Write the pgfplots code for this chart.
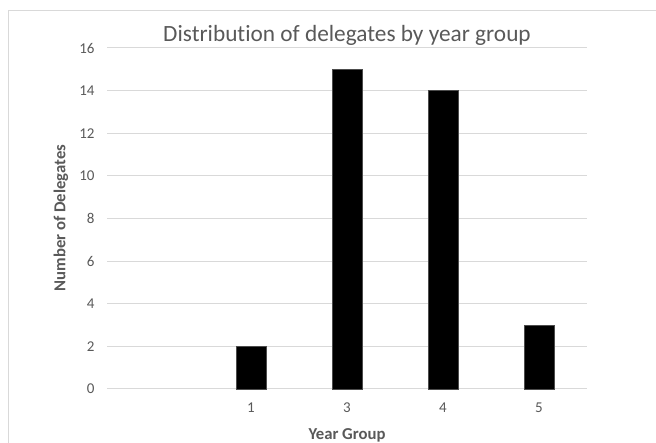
\documentclass[border=0pt]{standalone}
\usepackage{pgfplots}
\pgfplotsset{compat=1.18}
\usepackage{fontspec}
\setmainfont{Carlito}[Ligatures=NoCommon]
\definecolor{txt}{HTML}{595959}
\definecolor{gridc}{HTML}{D9D9D9}
\begin{document}
\begin{tikzpicture}[x=1pt,y=1pt]
\path[use as bounding box] (0,0) rectangle (656,443);
\draw[gridc, line width=1pt] (8,-10) -- (8,432) -- (670,432);
\begin{axis}[
  at={(107pt,54pt)}, anchor=south west,
  width=480pt, height=341pt, scale only axis,
  ymin=0, ymax=16, ytick={0,2,...,16},
  xmin=-0.5, xmax=4.5, xtick={0,1,2,3,4}, xticklabels={,1,3,4,5},
  ymajorgrids, xmajorgrids=false,
  grid style={draw=gridc, line width=1pt},
  axis line style={draw=none},
  major tick length=0pt,
  tick label style={font=\fontsize{15}{17}\selectfont, text=txt},
  yticklabel style={xshift=-9pt},
  xticklabel style={anchor=base, yshift=-24pt},
  /pgf/number format/assume math mode=true,
  ybar, bar width=30pt,
  clip=false,
]
\addplot[fill=black, draw=black!70!white] coordinates {(1,2) (2,15) (3,14) (4,3)};
\end{axis}
\node[rotate=90, font=\bfseries\fontsize{16.7}{19}\selectfont, text=txt] at (61,225) {Number of Delegates};
\node[anchor=base, font=\bfseries\fontsize{16.7}{19}\selectfont, text=txt] at (347,3) {Year Group};
\node[anchor=base, font=\fontsize{23.3}{26}\selectfont, text=txt] at (347,401) {Distribution of delegates by year group};
\end{tikzpicture}
\end{document}
